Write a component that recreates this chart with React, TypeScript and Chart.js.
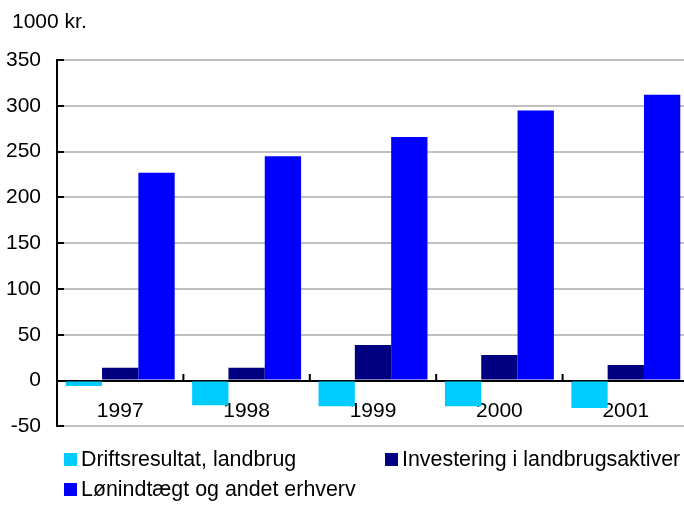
import React, { useEffect, useRef } from "react";
import { Chart, registerables } from "chart.js";

Chart.register(...registerables);

const categories = ["1997", "1998", "1999", "2000", "2001"];
const driftsresultat = [-6, -27, -28, -28, -30];
const investering = [14, 14, 39, 28, 17];
const loenindtaegt = [227, 245, 266, 295, 312];
const seriesNames = [
  "Driftsresultat, landbrug",
  "Investering i landbrugsaktiver",
  "Lønindtægt og andet erhverv",
];
const seriesColors = ["#00CCFF", "#000080", "#0000FF"];
const yTicks = { min: -50, max: 350, step: 50 };
const unitLabel = "1000 kr.";

const FONT = "'Liberation Sans', Arial, sans-serif";

const inwardTicks = {
  id: "inwardTicks",
  afterDraw(chart: any) {
    const { ctx } = chart;
    const x = chart.scales.x;
    const y = chart.scales.y;
    ctx.save();
    ctx.strokeStyle = "#000";
    ctx.lineWidth = 2;
    const len = 7;
    y.ticks.forEach((t: any) => {
      const py = Math.round(y.getPixelForValue(t.value));
      ctx.beginPath();
      ctx.moveTo(x.left, py);
      ctx.lineTo(x.left + len, py);
      ctx.stroke();
    });
    const zero = Math.round(y.getPixelForValue(0));
    const n = categories.length;
    for (let i = 1; i < n; i++) {
      const px = (x.getPixelForValue(i - 1) + x.getPixelForValue(i)) / 2;
      ctx.beginPath();
      ctx.moveTo(px, zero);
      ctx.lineTo(px, zero - len);
      ctx.stroke();
    }
    ctx.restore();
  },
};

export default function App() {
  const ref = useRef<HTMLCanvasElement | null>(null);

  useEffect(() => {
    document.body.style.margin = "0";
    if (!ref.current) return;
    const data = [driftsresultat, investering, loenindtaegt];
    const chart = new Chart(ref.current, {
      type: "bar",
      data: {
        labels: categories,
        datasets: data.map((d, i) => ({
          label: seriesNames[i],
          data: d,
          backgroundColor: seriesColors[i],
          borderWidth: 0,
          categoryPercentage: 0.862,
          barPercentage: 1.0,
        })),
      },
      options: {
        animation: false,
        responsive: false,
        maintainAspectRatio: false,
        layout: { padding: { left: 6, right: 0, top: 60, bottom: 0 } },
        plugins: {
          legend: { display: false },
          tooltip: { enabled: false },
          title: { display: false },
        },
        scales: {
          x: {
            position: { y: 0 } as any,
            z: 1,
            grid: { display: false, drawTicks: false },
            border: { display: true, color: "#000", width: 2 },
            ticks: {
              color: "#000",
              font: { family: FONT, size: 21 },
              padding: 18,
              maxRotation: 0,
            },
          },
          y: {
            min: yTicks.min,
            max: yTicks.max,
            afterFit: (s: any) => {
              s.width = 51;
            },
            ticks: {
              stepSize: yTicks.step,
              color: "#000",
              font: { family: FONT, size: 21 },
              padding: 16,
            },
            grid: { color: "#C0C0C0", lineWidth: 2, drawTicks: false },
            border: { display: true, color: "#000", width: 2 },
          },
        },
      },
      plugins: [inwardTicks],
    });
    return () => chart.destroy();
  }, []);

  return (
    <div style={{ position: "relative", width: 684, height: 506, overflow: "hidden", background: "#fff" }}>
      <div
        style={{
          position: "absolute",
          left: 12,
          top: 9,
          fontFamily: FONT,
          fontSize: 21,
          lineHeight: "24px",
          color: "#000",
          whiteSpace: "nowrap",
        }}
      >
        {unitLabel}
      </div>
      <canvas ref={ref} width={689} height={455} style={{ display: "block" }} />
      <div
        style={{
          position: "absolute",
          left: 64,
          top: 444,
          display: "grid",
          gridTemplateColumns: "321px auto",
          gridAutoRows: "30px",
          fontFamily: FONT,
          fontSize: 21.4,
          color: "#000",
          whiteSpace: "nowrap",
        }}
      >
        {seriesNames.map((name, i) => (
          <div key={name} style={{ display: "flex", alignItems: "center" }}>
            <span
              style={{
                display: "inline-block",
                width: 13,
                height: 13,
                background: seriesColors[i],
                marginRight: 4,
              }}
            />
            <span>{name}</span>
          </div>
        ))}
      </div>
    </div>
  );
}
